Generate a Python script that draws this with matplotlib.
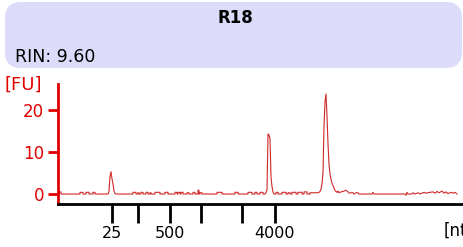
import matplotlib
matplotlib.use("Agg")
import matplotlib.pyplot as plt
from matplotlib.patches import FancyBboxPatch

sample_name = "R18"
rin_text = "RIN: 9.60"

# ladder positions (migration time, s) and their labels
ladder_time = [24.0, 27.25, 31.25, 35.125, 40.25, 44.375]
ladder_labels = ["25", "", "500", "", "", "4000"]

fu_ticks = [0, 10, 20]

# electropherogram trace
trace_time = [
    17.375, 17.375, 17.625, 17.625,
    20.0, 20.0, 20.375, 20.375,
    20.75, 20.75, 21.125, 21.125,
    21.625, 21.625, 21.875, 21.875,
    23.5, 23.625, 23.75, 23.875, 24.0, 24.125, 24.25, 24.375, 24.5,
    26.625, 26.625, 27.0, 27.0,
    27.25, 27.25, 27.375, 27.375,
    27.625, 27.625, 27.875, 27.875,
    28.25, 28.25, 28.5, 28.5,
    28.75, 28.75, 28.875, 28.875,
    29.375, 29.375, 30.0, 30.0,
    30.625, 30.625, 31.0, 31.0,
    31.875, 31.875, 32.125, 32.125,
    32.25, 32.25, 32.5, 32.5,
    32.625, 32.625, 32.875, 32.875,
    33.375, 33.375, 33.625, 33.625,
    34.125, 34.125, 34.375, 34.375,
    34.75, 34.75, 34.875, 34.875,
    35.0, 35.0, 35.25, 35.25,
    37.125, 37.125, 37.75, 37.75,
    39.375, 39.375, 39.75, 39.75,
    41.0, 41.0, 41.5, 41.5,
    41.875, 41.875, 42.125, 42.125,
    42.5, 42.5, 42.875, 42.875,
    43.125, 43.25, 43.375, 43.5, 43.625, 43.75, 43.875, 44.0, 44.125, 44.25,
    44.5, 44.5, 44.75, 44.75,
    45.25, 45.25, 45.75, 45.75,
    46.0, 46.0, 46.25, 46.25,
    46.5, 46.5, 47.0, 47.0,
    47.25, 47.25, 47.75, 47.75,
    48.0, 48.0, 48.375, 48.375,
    48.75, 48.75, 49.75,
    49.875, 50.0, 50.125, 50.25, 50.375, 50.5, 50.625, 50.75, 50.875, 51.0,
    51.125, 51.25, 51.375, 51.5, 51.625, 51.75, 51.875, 52.0, 52.125, 52.25,
    52.375, 52.625, 52.875, 53.25, 53.5, 53.625, 53.875, 54.125, 54.25,
    54.5, 54.75, 54.875,
    56.5, 56.625, 56.75,
    60.625, 60.75, 60.875, 61.0,
    61.5, 61.625, 61.875,
    62.25, 62.5,
    63.0, 63.25, 63.75, 64.125, 64.375, 64.625, 64.875, 65.25, 65.5,
    65.75, 66.0, 66.375, 66.625, 66.875, 67.125,
]
trace_fu = [
    0.5, 0.5, 0.5, 0.0,
    0.0, 0.4, 0.4, 0.0,
    0.0, 0.4, 0.4, 0.0,
    0.0, 0.4, 0.4, 0.0,
    0.0, 0.6, 4.2, 5.3, 3.6, 2.4, 0.8, 0.1, 0.0,
    0.0, 0.4, 0.4, 0.0,
    0.0, 0.3, 0.3, 0.0,
    0.0, 0.4, 0.4, 0.0,
    0.0, 0.4, 0.4, 0.0,
    0.0, 0.3, 0.3, 0.0,
    0.0, 0.4, 0.4, 0.0,
    0.0, 0.4, 0.4, 0.0,
    0.0, 0.4, 0.4, 0.0,
    0.0, 0.4, 0.4, 0.0,
    0.0, 0.4, 0.4, 0.0,
    0.0, 0.3, 0.3, 0.0,
    0.0, 0.4, 0.4, 0.0,
    0.0, 0.9, 0.9, 0.0,
    0.0, 0.3, 0.3, 0.0,
    0.0, 0.4, 0.4, 0.0,
    0.0, 0.4, 0.4, 0.0,
    0.0, 0.4, 0.4, 0.0,
    0.0, 0.4, 0.4, 0.0,
    0.0, 0.4, 0.4, 0.0,
    0.0, 0.3, 1.0, 14.3, 14.0, 13.2, 4.0, 1.8, 0.5, 0.0,
    0.0, 0.4, 0.4, 0.0,
    0.0, 0.4, 0.4, 0.0,
    0.0, 0.3, 0.3, 0.0,
    0.0, 0.4, 0.4, 0.0,
    0.0, 0.4, 0.4, 0.0,
    0.0, 0.5, 0.5, 0.0,
    0.0, 0.3, 0.3,
    0.4, 0.6, 1.2, 2.5, 5.0, 16.0, 22.0, 23.8, 18.5, 12.0,
    7.0, 4.8, 3.5, 2.6, 2.0, 1.5, 0.8, 0.6, 0.4, 0.7,
    0.3, 0.5, 0.6, 0.9, 0.5, 0.2, 0.3, 0.3, 0.0,
    0.3, 0.3, 0.0,
    0.0, 0.4, 0.0,
    0.0, -0.3, 0.4, 0.0,
    0.0, 0.3, 0.0,
    0.3, 0.0,
    0.4, 0.2, 0.4, 0.5, 0.2, 0.6, 0.3, 0.7, 0.2,
    0.5, 0.1, 0.4, 0.2, 0.4, 0.0,
]

W, H = 464, 247
fig = plt.figure(figsize=(W / 100, H / 100), dpi=100)
font = "DejaVu Sans"
red = "#e00000"

# header panel, drawn in pixel units on a full-figure axes
bg = fig.add_axes([0, 0, 1, 1])
bg.set_xlim(0, W)
bg.set_ylim(H, 0)
bg.axis("off")
bg.add_patch(FancyBboxPatch((5, 2), 457, 66, boxstyle="round,pad=0,rounding_size=16",
                            facecolor="#dcdcfa", edgecolor="none"))
bg.text(235, 18, sample_name, ha="center", va="center", fontsize=12,
        fontweight="bold", family=font)
bg.text(15, 57, rin_text, ha="left", va="center", fontsize=12.5, family=font)
bg.text(4, 85, "[FU]", ha="left", va="center", fontsize=13, color=red, family=font)
bg.text(444, 231, "[nt]", ha="left", va="center", fontsize=12, family=font)

ax = fig.add_axes([58 / W, 43 / H, (W - 58) / W, 120 / H])
ax.plot(trace_time, trace_fu, color="#d02828", lw=0.8)
ax.set_xlim(17.25, 68.0)
ax.set_ylim(-2.38, 26.2)
ax.patch.set_alpha(0)

for s in ["top", "right"]:
    ax.spines[s].set_visible(False)
ax.spines["left"].set_color(red)
ax.spines["left"].set_linewidth(2)
ax.spines["bottom"].set_color("black")
ax.spines["bottom"].set_linewidth(2)

ax.set_yticks(fu_ticks)
ax.set_yticklabels([str(v) for v in fu_ticks], fontsize=12, color=red, family=font)
ax.tick_params(axis="y", colors=red, length=7, width=2, pad=3)
ax.set_xticks(ladder_time)
ax.set_xticklabels(ladder_labels, fontsize=11.5, family=font)
ax.tick_params(axis="x", colors="black", length=14, width=2, pad=2)

fig.savefig("out.png", dpi=100)
